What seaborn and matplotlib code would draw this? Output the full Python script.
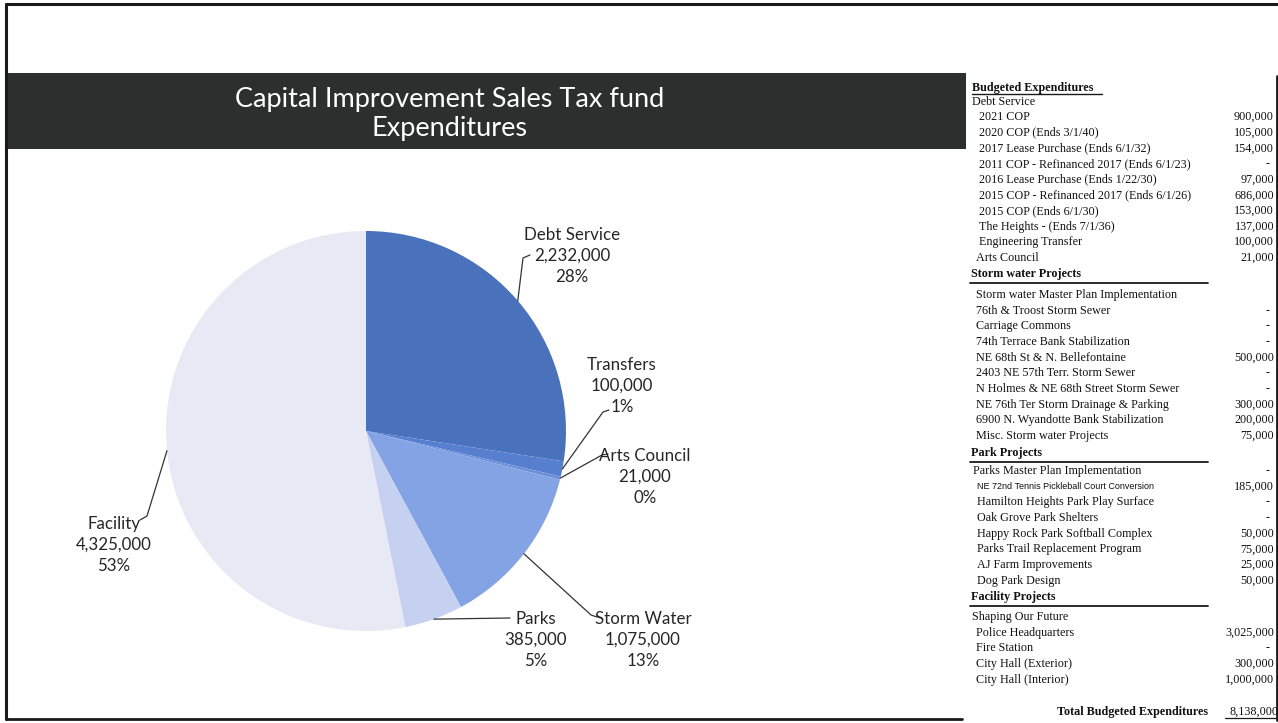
import matplotlib
matplotlib.use("Agg")
import matplotlib.pyplot as plt
from matplotlib.lines import Line2D
from matplotlib.patches import Rectangle
import seaborn as sns
import numpy as np

# ---------------- data ----------------
categories = ["Debt Service", "Transfers", "Arts Council", "Storm Water", "Parks", "Facility"]
amounts = [2232000, 100000, 21000, 1075000, 385000, 4325000]
pct_labels = ["28%", "1%", "0%", "13%", "5%", "53%"]
slice_colors = ["#4A72BC", "#5680CF", "#6A8FD8", "#83A3E4", "#C6D0F1", "#E7E9F5"]

debt_items = ["2021 COP", "2020 COP (Ends 3/1/40)", "2017 Lease Purchase (Ends 6/1/32)",
              "2011 COP - Refinanced 2017 (Ends 6/1/23)", "2016 Lease Purchase (Ends 1/22/30)",
              "2015 COP - Refinanced 2017 (Ends 6/1/26)", "2015 COP (Ends 6/1/30)",
              "The Heights - (Ends 7/1/36)", "Engineering Transfer", "Arts Council"]
debt_values = [900000, 105000, 154000, 0, 97000, 686000, 153000, 137000, 100000, 21000]

storm_items = ["Storm water Master Plan Implementation", "76th & Troost Storm Sewer",
               "Carriage Commons", "74th Terrace Bank Stabilization",
               "NE 68th St & N. Bellefontaine", "2403 NE 57th Terr. Storm Sewer",
               "N Holmes & NE 68th Street Storm Sewer", "NE 76th Ter Storm Drainage & Parking",
               "6900 N. Wyandotte Bank Stabilization", "Misc. Storm water Projects"]
storm_values = [None, 0, 0, 0, 500000, 0, 0, 300000, 200000, 75000]

park_items = ["Parks Master Plan Implementation", "NE 72nd Tennis Pickleball Court Conversion",
              "Hamilton Heights Park Play Surface", "Oak Grove Park Shelters",
              "Happy Rock Park Softball Complex", "Parks Trail Replacement Program",
              "AJ Farm Improvements", "Dog Park Design"]
park_values = [0, 185000, 0, 0, 50000, 75000, 25000, 50000]

facility_items = ["Shaping Our Future", "Police Headquarters", "Fire Station",
                  "City Hall (Exterior)", "City Hall (Interior)"]
facility_values = [None, 3025000, 0, 300000, 1000000]

total_budget = 8138000

# ---------------- figure ----------------
sns.set_theme(style="white")
plt.rcParams["font.family"] = ["Lato", "DejaVu Sans"]

W, H = 1278, 723
fig = plt.figure(figsize=(W / 100, H / 100), dpi=100)
fig.patch.set_facecolor("white")


def fx(px):
    return px / W


def fy(py):
    return 1 - py / H


def hline(x0, x1, y, lw=1.2, color="#1a1a1a"):
    fig.add_artist(Line2D([fx(x0), fx(x1)], [fy(y), fy(y)], lw=lw, color=color,
                          transform=fig.transFigure))


def vline(x, y0, y1, lw=1.2, color="#1a1a1a"):
    fig.add_artist(Line2D([fx(x), fx(x)], [fy(y0), fy(y1)], lw=lw, color=color,
                          transform=fig.transFigure))


# page frame
hline(6, 1278, 4, lw=2.2)
vline(6, 4, 719, lw=2.2)
hline(6, 962, 719, lw=2.0)
vline(1277, 76, 720, lw=2.0)

# title banner
fig.add_artist(Rectangle((fx(6), fy(149)), fx(966) - fx(6), fy(73) - fy(149),
                         transform=fig.transFigure, facecolor="#2B302E",
                         edgecolor="none", zorder=1))
fig.text(fx(450), fy(114), "Capital Improvement Sales Tax fund\nExpenditures",
         ha="center", va="center", color="white", fontsize=19.5,
         linespacing=1.2, zorder=2)

# ---------------- pie ----------------
cx, cy, R = 366, 431, 200
ax = fig.add_axes([fx(cx - R), fy(cy + R), 2 * R / W, 2 * R / H])
wedges, _ = ax.pie(amounts, colors=sns.color_palette(slice_colors), startangle=90,
                   counterclock=False, radius=1.0,
                   wedgeprops=dict(linewidth=0))
ax.set_xlim(-1, 1)
ax.set_ylim(-1, 1)
ax.axis("off")


def to_data(px, py):
    return (px - cx) / R, (cy - py) / R


# label centre (px) and elbow/end of the leader line (px)
label_pos = {
    "Debt Service": (572, 256),
    "Transfers": (622, 386),
    "Arts Council": (645, 477),
    "Storm Water": (643, 640),
    "Parks": (536, 640),
    "Facility": (114, 545),
}
leader_path = {
    "Debt Service": [(523, 258), (530, 255)],
    "Transfers": [(603, 412), (609, 410)],
    "Arts Council": [(602, 455), (608, 454)],
    "Storm Water": [(591, 615), (597, 617)],
    "Parks": [(510, 618)],
    "Facility": [(147, 516), (140, 520)],
}

for w, cat, amt, pct in zip(wedges, categories, amounts, pct_labels):
    mid = np.deg2rad((w.theta1 + w.theta2) / 2)
    sx, sy = np.cos(mid), np.sin(mid)
    pts = [(sx, sy)] + [to_data(*p) for p in leader_path[cat]]
    ax.plot([p[0] for p in pts], [p[1] for p in pts], color="#333333", lw=0.9,
            clip_on=False)
    tx, ty = to_data(*label_pos[cat])
    ax.text(tx, ty, f"{cat}\n{amt:,.0f}\n{pct}", ha="center", va="center",
            fontsize=12.2, color="#262626", linespacing=1.36, clip_on=False)

# ---------------- budget table ----------------
serif = ["Liberation Serif", "DejaVu Serif"]
tcol = "#111111"
fs = 8.7
val_x = 1274


def fmt(v):
    if v is None:
        return ""
    return "-" if v == 0 else f"{v:,.0f}"


def row(label, value, x, y, **kw):
    fam = kw.pop("family", serif)
    size = kw.pop("size", fs)
    fig.text(fx(x), fy(y), label, ha="left", va="center", family=fam,
             fontsize=size, color=tcol, **kw)
    s = fmt(value)
    if s:
        xr = val_x - 4 if s == "-" else val_x
        fig.text(fx(xr), fy(y), s, ha="right", va="center", family=serif,
                 fontsize=fs, color=tcol)


# header
fig.text(fx(972), fy(88), "Budgeted Expenditures", ha="left", va="center",
         family=serif, fontsize=fs, fontweight="bold", color=tcol)
hline(972, 1102, 94, lw=1.0)
fig.text(fx(972), fy(102), "Debt Service", ha="left", va="center",
         family=serif, fontsize=fs, color=tcol)

pitch = 15.65
for i, (lab, v) in enumerate(zip(debt_items, debt_values)):
    x = 976 if lab == "Arts Council" else 979
    row(lab, v, x, 117 + i * pitch)


def section(title, y_head, items, values, y_first, xs):
    fig.text(fx(971), fy(y_head), title, ha="left", va="center", family=serif,
             fontsize=fs, fontweight="bold", color=tcol)
    hline(970, 1208, y_head + 9, lw=1.3)
    for i, (lab, v) in enumerate(zip(items, values)):
        if lab.startswith("NE 72nd Tennis"):
            row(lab, v, 977, y_first + i * pitch,
                family=["Liberation Sans", "DejaVu Sans"], size=6.5)
        else:
            row(lab, v, xs(i), y_first + i * pitch)


section("Storm water Projects", 274, storm_items, storm_values, 295,
        lambda i: 976)
section("Park Projects", 453, park_items, park_values, 471,
        lambda i: 973 if i == 0 else 977)
section("Facility Projects", 597, facility_items, facility_values, 617,
        lambda i: 972 if i == 0 else 976)

# total line
fig.text(fx(1208), fy(712), "Total Budgeted Expenditures", ha="right", va="center",
         family=serif, fontsize=fs, fontweight="bold", color=tcol)
fig.text(fx(1279), fy(712), f"{total_budget:,.0f}", ha="right", va="center",
         family=serif, fontsize=fs, color=tcol)
hline(1225, 1278, 718, lw=0.9)

fig.savefig("out.png", dpi=100, facecolor="white")
